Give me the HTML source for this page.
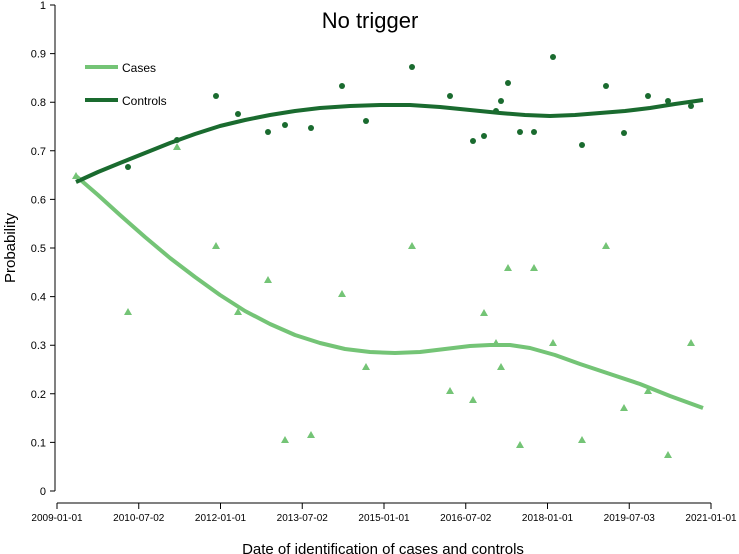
<!DOCTYPE html>
<html><head><style>body{margin:0;background:#fff}svg{display:block}</style></head><body>
<svg width="739" height="554" xmlns="http://www.w3.org/2000/svg" font-family="Liberation Sans, sans-serif">
<text x="370" y="28" font-size="22" text-anchor="middle">No trigger</text>
<g stroke="#000" stroke-width="1" fill="none">
<path d="M55 5V491"/>
<path d="M50 5H55M50 53.6H55M50 102.2H55M50 150.8H55M50 199.4H55M50 248H55M50 296.6H55M50 345.2H55M50 393.8H55M50 442.4H55M50 491H55"/>
<path d="M57 503H711"/>
<path d="M57 503v6M138.75 503v6M220.5 503v6M302.25 503v6M384 503v6M465.75 503v6M547.5 503v6M629.25 503v6M711 503v6"/>
</g>
<g font-size="11" text-anchor="end">
<text x="46" y="9">1</text><text x="46" y="57.6">0.9</text><text x="46" y="106.2">0.8</text><text x="46" y="154.8">0.7</text><text x="46" y="203.4">0.6</text><text x="46" y="252">0.5</text><text x="46" y="300.6">0.4</text><text x="46" y="349.2">0.3</text><text x="46" y="397.8">0.2</text><text x="46" y="446.4">0.1</text><text x="46" y="495">0</text>
</g>
<g font-size="10" text-anchor="middle">
<text x="57" y="521">2009-01-01</text><text x="138.75" y="521">2010-07-02</text><text x="220.5" y="521">2012-01-01</text><text x="302.25" y="521">2013-07-02</text><text x="384" y="521">2015-01-01</text><text x="465.75" y="521">2016-07-02</text><text x="547.5" y="521">2018-01-01</text><text x="629.25" y="521">2019-07-03</text><text x="711" y="521">2021-01-01</text>
</g>
<text x="383" y="554" font-size="15" text-anchor="middle">Date of identification of cases and controls</text>
<text transform="translate(15,248) rotate(-90)" font-size="15" text-anchor="middle">Probability</text>
<line x1="85" y1="67" x2="118" y2="67" stroke="#74c476" stroke-width="4"/>
<text x="122" y="72" font-size="12">Cases</text>
<line x1="85" y1="100" x2="118" y2="100" stroke="#1a6b2f" stroke-width="4"/>
<text x="122" y="105" font-size="12">Controls</text>
<polyline points="76,176 98,195 120,215 145,237 170,258 195,277 220,295 245,311 270,324 295,335 320,343 345,349 370,352 395,353 420,352 445,349 470,346 490,345 510,345 530,348 555,355 580,364 610,374 640,384 670,396 703,408" fill="none" stroke="#74c476" stroke-width="4" stroke-linejoin="round"/>
<polyline points="76,182 98,172 120,163 145,153 170,143 195,134 220,126 245,120 270,115 295,111 320,108 350,106 380,105 410,105 440,107 470,110 500,113 525,115 550,116 575,115 600,113 625,111 650,108 675,104 703,100" fill="none" stroke="#1a6b2f" stroke-width="4" stroke-linejoin="round"/>
<g fill="#1a6b2f">
<circle cx="128" cy="167" r="3"/><circle cx="177" cy="140" r="3"/><circle cx="216" cy="96" r="3"/><circle cx="238" cy="114" r="3"/><circle cx="268" cy="132" r="3"/><circle cx="285" cy="125" r="3"/><circle cx="311" cy="128" r="3"/><circle cx="342" cy="86" r="3"/><circle cx="366" cy="121" r="3"/><circle cx="412" cy="67" r="3"/><circle cx="450" cy="96" r="3"/><circle cx="473" cy="141" r="3"/><circle cx="484" cy="136" r="3"/><circle cx="496" cy="111" r="3"/><circle cx="501" cy="101" r="3"/><circle cx="508" cy="83" r="3"/><circle cx="520" cy="132" r="3"/><circle cx="534" cy="132" r="3"/><circle cx="553" cy="57" r="3"/><circle cx="582" cy="145" r="3"/><circle cx="606" cy="86" r="3"/><circle cx="624" cy="133" r="3"/><circle cx="648" cy="96" r="3"/><circle cx="668" cy="101" r="3"/><circle cx="691" cy="106" r="3"/>
</g>
<g fill="#74c476">
<path d="M76 172l4 7h-8z M128 308l4 7h-8z M177 143l4 7h-8z M216 242l4 7h-8z M238 308l4 7h-8z M268 276l4 7h-8z M285 436l4 7h-8z M311 431l4 7h-8z M342 290l4 7h-8z M366 363l4 7h-8z M412 242l4 7h-8z M450 387l4 7h-8z M473 396l4 7h-8z M484 309l4 7h-8z M496 339l4 7h-8z M501 363l4 7h-8z M508 264l4 7h-8z M520 441l4 7h-8z M534 264l4 7h-8z M553 339l4 7h-8z M582 436l4 7h-8z M606 242l4 7h-8z M624 404l4 7h-8z M648 387l4 7h-8z M668 451l4 7h-8z M691 339l4 7h-8z"/>
</g>
</svg>
</body></html>
